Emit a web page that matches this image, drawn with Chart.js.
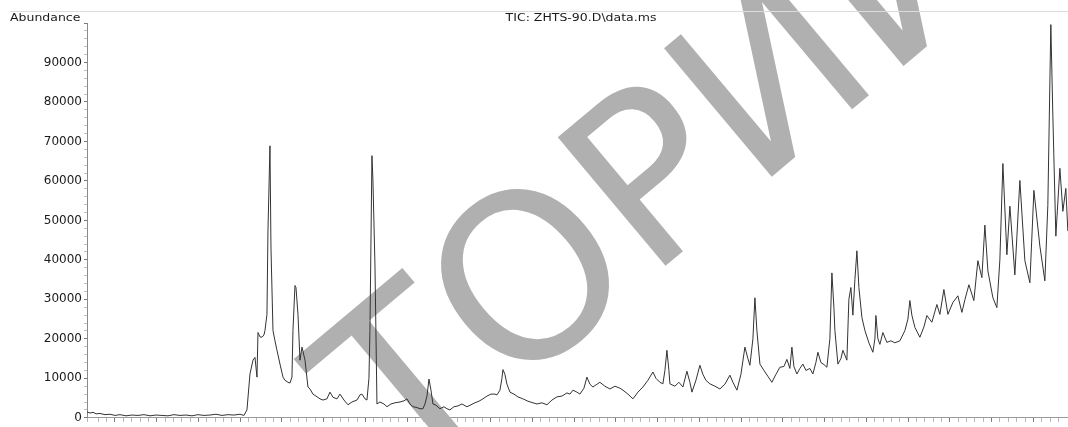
<!DOCTYPE html>
<html>
<head>
<meta charset="utf-8">
<title>TIC: ZHTS-90.D\data.ms</title>
<script src="https://cdn.jsdelivr.net/npm/chart.js@4.4.1/dist/chart.umd.min.js"></script>
<style>
  html, body { margin: 0; padding: 0; background: #fff; }
  #wrap { position: relative; width: 1068px; height: 427px; }
</style>
</head>
<body>
<div id="wrap"><canvas id="ticChart"></canvas></div>
<script>
// retention time (min)
const retentionTimes = [
    2.330, 2.402, 2.474, 2.546, 2.641, 2.761, 2.881, 3.001, 3.120, 3.264,
    3.408, 3.552, 3.695, 3.839, 3.983, 4.126, 4.270, 4.414, 4.558, 4.701,
    4.845, 4.989, 5.132, 5.276, 5.420, 5.564, 5.707, 5.851, 5.995, 6.090,
    6.162, 6.234, 6.306, 6.354, 6.402, 6.426, 6.474, 6.522, 6.569, 6.593,
    6.641, 6.665, 6.713, 6.737, 6.785, 6.833, 6.881, 6.953, 7.025, 7.072,
    7.144, 7.192, 7.240, 7.264, 7.312, 7.336, 7.384, 7.432, 7.480, 7.552,
    7.623, 7.671, 7.743, 7.815, 7.911, 7.983, 8.078, 8.150, 8.222, 8.318,
    8.390, 8.486, 8.581, 8.677, 8.797, 8.869, 8.917, 8.989, 9.036, 9.084,
    9.108, 9.156, 9.180, 9.228, 9.276, 9.348, 9.444, 9.516, 9.611, 9.707,
    9.827, 9.923, 9.995, 10.066, 10.138, 10.234, 10.306, 10.378, 10.426, 10.474,
    10.522, 10.570, 10.617, 10.689, 10.785, 10.881, 10.953, 11.024, 11.120, 11.216,
    11.312, 11.432, 11.528, 11.623, 11.719, 11.815, 11.911, 12.007, 12.102, 12.150,
    12.222, 12.270, 12.294, 12.342, 12.390, 12.462, 12.557, 12.653, 12.773, 12.893,
    13.013, 13.108, 13.228, 13.348, 13.468, 13.587, 13.707, 13.827, 13.899, 13.971,
    14.066, 14.138, 14.234, 14.306, 14.378, 14.450, 14.545, 14.617, 14.737, 14.857,
    14.977, 15.096, 15.168, 15.288, 15.408, 15.528, 15.647, 15.767, 15.887, 15.959,
    16.054, 16.126, 16.174, 16.222, 16.270, 16.294, 16.414, 16.509, 16.605, 16.701,
    16.773, 16.821, 16.917, 17.012, 17.084, 17.156, 17.252, 17.372, 17.492, 17.611,
    17.731, 17.803, 17.899, 17.995, 18.090, 18.162, 18.210, 18.282, 18.330, 18.378,
    18.450, 18.546, 18.641, 18.737, 18.833, 18.929, 19.025, 19.096, 19.168, 19.216,
    19.264, 19.336, 19.408, 19.480, 19.552, 19.647, 19.719, 19.791, 19.839, 19.911,
    19.983, 20.054, 20.126, 20.174, 20.222, 20.246, 20.318, 20.390, 20.438, 20.533,
    20.581, 20.629, 20.677, 20.725, 20.773, 20.821, 20.893, 20.965, 21.060, 21.156,
    21.204, 21.228, 21.276, 21.324, 21.395, 21.491, 21.587, 21.683, 21.803, 21.923,
    21.995, 22.042, 22.090, 22.162, 22.282, 22.378, 22.450, 22.569, 22.689, 22.761,
    22.857, 22.953, 23.072, 23.192, 23.288, 23.360, 23.456, 23.575, 23.671, 23.767,
    23.839, 23.911, 24.031, 24.126, 24.198, 24.270, 24.366, 24.438, 24.557, 24.677,
    24.797, 24.917, 25.013, 25.156, 25.276, 25.347, 25.419, 25.467, 25.539, 25.635,
    25.707, 25.778, 25.826
];

// abundance at each retention time
const abundances = [
    1500, 1200, 1400, 1000, 1100, 800, 900, 600, 800, 500,
    700, 600, 800, 500, 700, 600, 500, 800, 600, 700,
    500, 800, 600, 700, 900, 600, 800, 700, 900, 600,
    2000, 11100, 14600, 15300, 10300, 21600, 20500, 20400, 21000, 22100,
    26200, 47300, 68900, 43000, 22100, 19500, 17100, 13600, 10300, 9500,
    9000, 8800, 10300, 22100, 33500, 33000, 26200, 14600, 17900, 14600,
    7800, 7300, 6000, 5500, 4800, 4500, 4800, 6500, 5200, 4800,
    6000, 4500, 3300, 4000, 4500, 5800, 6000, 4800, 4500, 10000,
    22100, 66400, 60000, 38700, 3500, 4000, 3500, 2800, 3500, 3800,
    4000, 4300, 4800, 3500, 2800, 2600, 2300, 2300, 3500, 5500,
    9800, 7000, 3500, 3200, 2300, 2800, 2300, 2000, 2800, 3000,
    3500, 2800, 3300, 3800, 4200, 4800, 5500, 6000, 6000, 5800,
    7000, 10000, 12200, 11000, 8500, 6500, 6000, 5300, 4800, 4200,
    3800, 3500, 3800, 3300, 4500, 5300, 5500, 6300, 6000, 7000,
    6500, 6000, 7500, 10300, 8500, 7800, 8500, 9000, 8000, 7300,
    8000, 7500, 7000, 6000, 4800, 6500, 7800, 9500, 11600, 10000,
    9000, 8600, 12000, 17100, 12000, 8600, 8000, 9000, 7800, 11800,
    9000, 6500, 9500, 13300, 11000, 9500, 8600, 8000, 7300, 8500,
    10800, 9000, 7000, 11000, 17900, 15000, 13300, 20000, 30400, 22000,
    13600, 12000, 10500, 9000, 11000, 12800, 13000, 14800, 12500, 17900,
    13000, 11100, 12500, 13600, 12000, 12500, 11100, 14000, 16600, 14000,
    13500, 12800, 20000, 36700, 28000, 22100, 13600, 15000, 17100, 14600,
    30000, 33000, 26000, 35000, 42300, 33000, 25400, 22100, 19000, 16600,
    20000, 25900, 20000, 18600, 21600, 19100, 19500, 19000, 19500, 22100,
    25000, 29700, 26000, 22900, 20400, 23000, 25900, 24200, 28700, 26200,
    32500, 26200, 29200, 30900, 26700, 29900, 33700, 29700, 39800, 35500,
    48800, 37200, 30400, 27900, 40000, 64400, 41300, 53600, 36200, 60100,
    39800, 34200, 57600, 43500, 34700, 53800, 99600, 76500, 46000, 63200,
    52300, 58100, 47300
];

const yLabelValues = [0, 10000, 20000, 30000, 40000, 50000, 60000, 70000, 80000, 90000];
const yAxisTitle = 'Abundance';
const chartTitle = 'TIC: ZHTS-90.D\\data.ms';
const watermarkText = 'ТОРИЙ';

const fontFamily = '"DejaVu Sans", "Liberation Sans", Arial, sans-serif';

if (retentionTimes.length !== abundances.length) {
    console.error('length mismatch', retentionTimes.length, abundances.length);
}

const tracePoints = retentionTimes.map((t, i) => ({ x: t, y: abundances[i] }));

function isWhole(v, step) {
    const r = v / step;
    return Math.abs(r - Math.round(r)) < 1e-6;
}

// the original text is wide and low, so stretch it a bit sideways
function drawWideText(ctx, text, x, y, align) {
    ctx.save();
    ctx.translate(x, y);
    ctx.scale(1.25, 1);
    ctx.textAlign = align;
    ctx.fillText(text, 0, 0);
    ctx.restore();
}

// header line, "Abundance" and the file title
const headerPlugin = {
    id: 'header',
    afterDraw(chart) {
        const ctx = chart.ctx;
        ctx.save();
        ctx.strokeStyle = '#dcdcdc';
        ctx.lineWidth = 1;
        ctx.beginPath();
        ctx.moveTo(10, 11.5);
        ctx.lineTo(1068, 11.5);
        ctx.stroke();

        ctx.fillStyle = '#1a1a1a';
        ctx.font = '10px ' + fontFamily;
        ctx.textBaseline = 'middle';
        drawWideText(ctx, yAxisTitle, 10, 18, 'left');
        drawWideText(ctx, chartTitle, 581, 18, 'center');
        ctx.restore();
    }
};

// big grey watermark lying under the trace
const watermarkPlugin = {
    id: 'watermark',
    beforeDatasetsDraw(chart) {
        const ctx = chart.ctx;
        ctx.save();
        ctx.translate(402, 487);
        ctx.rotate(-40 * Math.PI / 180);
        ctx.font = '230px ' + fontFamily;
        ctx.fillStyle = '#b0b0b0';
        ctx.textBaseline = 'alphabetic';
        ctx.textAlign = 'left';
        ctx.fillText(watermarkText, 0, 0);
        ctx.restore();
    }
};

const ctx = document.getElementById('ticChart').getContext('2d');

new Chart(ctx, {
    type: 'line',
    data: {
        datasets: [{
            label: 'TIC',
            data: tracePoints,
            borderColor: '#333333',
            borderWidth: 1,
            pointRadius: 0,
            tension: 0,
            fill: false
        }]
    },
    options: {
        responsive: true,
        maintainAspectRatio: false,
        animation: false,
        events: [],
        layout: {
            padding: { top: 23, left: 0, right: 0, bottom: 0 }
        },
        plugins: {
            legend: { display: false },
            tooltip: { enabled: false },
            title: { display: false }
        },
        scales: {
            x: {
                type: 'linear',
                min: 2.33,
                max: 25.83,
                afterFit(scale) { scale.height = 6; },
                border: { display: true, color: '#9a9a9a', width: 1 },
                grid: {
                    drawOnChartArea: false,
                    drawTicks: true,
                    tickLength: 4,
                    tickColor: (c) => isWhole(c.tick.value, 1) ? '#777777' : '#b5b5b5'
                },
                ticks: {
                    display: false,
                    stepSize: 0.2,
                    autoSkip: false
                }
            },
            y: {
                min: 0,
                max: 100000,
                afterFit(scale) { scale.width = 87; },
                border: { display: true, color: '#8a8a8a', width: 1 },
                grid: {
                    drawOnChartArea: false,
                    drawTicks: true,
                    tickLength: 3,
                    tickColor: (c) => isWhole(c.tick.value, 10000) ? '#777777' : '#c0c0c0'
                },
                ticks: {
                    stepSize: 2000,
                    autoSkip: false,
                    padding: 2,
                    color: '#1a1a1a',
                    font: { family: fontFamily, size: 12 },
                    callback: (value) => yLabelValues.includes(value) ? String(value) : ''
                }
            }
        }
    },
    plugins: [watermarkPlugin, headerPlugin]
});
</script>
</body>
</html>
